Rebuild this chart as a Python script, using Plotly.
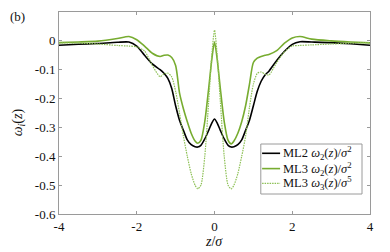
import plotly.graph_objects as go

z = [-4, -3.5, -3, -2.5, -2.2, -2.0, -1.8, -1.6, -1.4, -1.3, -1.2, -1.1, -1.0, -0.9, -0.8, -0.7,
     -0.6, -0.5, -0.43, -0.35, -0.25, -0.15, -0.07, 0, 0.07, 0.15, 0.25, 0.35, 0.43, 0.5, 0.6,
     0.7, 0.8, 0.9, 1.0, 1.1, 1.2, 1.3, 1.4, 1.6, 1.8, 2.0, 2.2, 2.5, 3, 3.5, 4]

ml2_w2 = [-0.015, -0.012, -0.009, -0.005, -0.004, -0.018, -0.050, -0.080, -0.100, -0.112, -0.130,
          -0.165, -0.225, -0.275, -0.310, -0.343, -0.360, -0.367, -0.368, -0.362, -0.340, -0.310,
          -0.285, -0.271, -0.285, -0.310, -0.340, -0.362, -0.368, -0.367, -0.360, -0.343, -0.310,
          -0.275, -0.225, -0.175, -0.140, -0.118, -0.105, -0.068, -0.036, -0.012, -0.003,
          -0.004, -0.006, -0.010, -0.015]

ml3_w2 = [-0.006, -0.004, -0.001, 0.008, 0.015, 0.004, -0.018, -0.043, -0.054, -0.050, -0.049,
          -0.058, -0.085, -0.180, -0.235, -0.280, -0.320, -0.347, -0.355, -0.345, -0.280, -0.165,
          -0.065, -0.003, -0.065, -0.165, -0.280, -0.345, -0.357, -0.347, -0.320, -0.280, -0.225,
          -0.150, -0.075, -0.060, -0.054, -0.050, -0.047, -0.034, -0.008, 0.010, 0.015, 0.006,
          0.000, -0.004, -0.007]

ml3_w3 = [-0.007, -0.008, -0.011, -0.016, -0.018, -0.021, -0.035, -0.085, -0.124, -0.115, -0.112,
          -0.125, -0.175, -0.250, -0.330, -0.400, -0.460, -0.500, -0.513, -0.500, -0.400, -0.210,
          -0.050, 0.037, -0.050, -0.210, -0.400, -0.500, -0.513, -0.500, -0.460, -0.400, -0.330,
          -0.230, -0.150, -0.113, -0.108, -0.115, -0.118, -0.075, -0.038, -0.018, -0.016,
          -0.014, -0.011, -0.008, -0.006]

x_ticks = [-4, -2, 0, 2, 4]
x_tick_labels = ["-4", "-2", "0", "2", "4"]
y_ticks = [-0.6, -0.5, -0.4, -0.3, -0.2, -0.1, 0]
y_tick_labels = ["-0.6", "-0.5", "-0.4", "-0.3", "-0.2", "-0.1", "0"]

legend_labels = ["ML2 <i>ω</i><sub>2</sub>(<i>z</i>)/<i>σ</i><sup>2</sup>",
                 "ML3 <i>ω</i><sub>2</sub>(<i>z</i>)/<i>σ</i><sup>2</sup>",
                 "ML3 <i>ω</i><sub>3</sub>(<i>z</i>)/<i>σ</i><sup>5</sup>"]

BLACK = "#000000"
GREEN = "#77AC30"
GREEN_LIGHT = "#8DC055"
AXC = "#9a9a9a"
FONT = "Liberation Serif"

fig = go.Figure()
series = [(ml2_w2, BLACK, "solid", 1.6), (ml3_w2, GREEN, "solid", 1.6), (ml3_w3, GREEN_LIGHT, "1.5px,1px", 1.2)]
for (vals, col, dash, w), name in zip(series, legend_labels):
    fig.add_trace(go.Scatter(x=z, y=vals, mode="lines", name=name,
                             line=dict(color=col, width=w, dash=dash, shape="spline", smoothing=0.7),
                             showlegend=False))

W, H = 390, 252
L, R, T, B = 58.7, 20, 12, 38
pw, ph = W - L - R, H - T - B

def px(x):
    return (x - L) / pw

def py(y):
    return (H - B - y) / ph

# custom legend box
lx0, lx1, ly0, ly1 = 260.7, 362, 144, 194
fig.add_shape(type="rect", xref="paper", yref="paper", x0=px(lx0), x1=px(lx1), y0=py(ly1), y1=py(ly0),
              line=dict(color=AXC, width=1), fillcolor="white", layer="above")
rows = [153.3, 168.6, 183.3]
for (vals, col, dash, w), name, yy in zip(series, legend_labels, rows):
    fig.add_shape(type="line", xref="paper", yref="paper", x0=px(262), x1=px(280), y0=py(yy), y1=py(yy),
                  line=dict(color=col, width=w, dash=dash), layer="above")
    fig.add_annotation(xref="paper", yref="paper", x=px(281), y=py(yy), text=name, showarrow=False,
                       xanchor="left", yanchor="middle", font=dict(family=FONT, size=12.5, color="#111"))

fig.add_annotation(xref="paper", yref="paper", x=px(17), y=py(16), text="(b)", showarrow=False,
                   xanchor="center", yanchor="middle", font=dict(family=FONT, size=13, color="#111"))
fig.add_annotation(xref="paper", yref="paper", x=px(18), y=py(122),
                   text="<i>ω</i><sub><i>i</i></sub>(<i>z</i>)", textangle=-90, showarrow=False,
                   xanchor="center", yanchor="middle", font=dict(family=FONT, size=14, color="#111"))
fig.add_annotation(xref="paper", yref="paper", x=px(214), y=py(241),
                   text="<i>z</i>/<i>σ</i>", showarrow=False,
                   xanchor="center", yanchor="middle", font=dict(family=FONT, size=14, color="#111"))

axis_common = dict(showline=True, linecolor=AXC, linewidth=1, mirror="ticks", ticks="inside",
                   ticklen=3, tickcolor=AXC, showgrid=False, zeroline=False,
                   tickfont=dict(family=FONT, size=13, color="#111"))
fig.update_xaxes(range=[-4, 4], tickvals=x_ticks, ticktext=x_tick_labels, **axis_common)
fig.update_yaxes(range=[-0.6, 0.1], tickvals=y_ticks, ticktext=y_tick_labels, **axis_common)

fig.update_layout(width=W, height=H, margin=dict(l=L, r=R, t=T, b=B, pad=0),
                  plot_bgcolor="white", paper_bgcolor="white", showlegend=False)

fig.write_html("out.html", config={"displayModeBar": False},
               post_script="document.body.style.margin='0px';")
